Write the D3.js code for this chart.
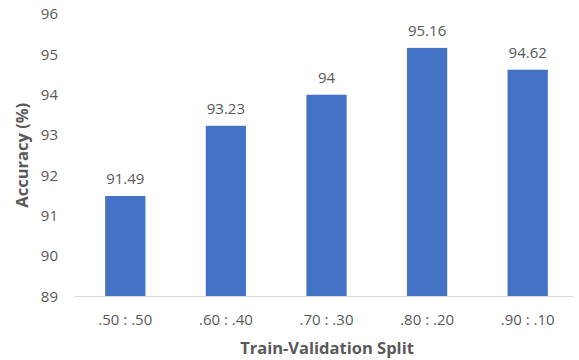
<!DOCTYPE html>
<html>
<head>
<meta charset="utf-8">
<script src="https://cdn.jsdelivr.net/npm/d3@7"></script>
<style>
  html, body { margin: 0; padding: 0; background: #fff; }
  svg { display: block; }
  text { font-family: "Open Sans", "Noto Sans", sans-serif; fill: #595959; }
</style>
</head>
<body>
<svg id="chart" width="579" height="360"></svg>
<script>
// Accuracy by train/validation split
const splits = [".50 : .50", ".60 : .40", ".70 : .30", ".80 : .20", ".90 : .10"];
const accuracy = [91.49, 93.23, 94, 95.16, 94.62];
const yTicks = [89, 90, 91, 92, 93, 94, 95, 96];

const svg = d3.select("#chart");
const margin = { left: 75, right: 1, top: 14, bottom: 63 };
const W = 579, H = 360;
const labelFont = "15px";

const x = d3.scaleBand()
  .domain(splits)
  .range([margin.left, W - margin.right])
  .paddingInner(0.6)
  .paddingOuter(0.3);

const y = d3.scaleLinear()
  .domain([89, 96])
  .range([H - margin.bottom - 0.5, margin.top]);

// Bars
svg.append("g").selectAll("rect")
  .data(accuracy)
  .join("rect")
  .attr("x", (d, i) => x(splits[i]))
  .attr("width", x.bandwidth())
  .attr("y", d => y(d))
  .attr("height", d => y(89) - y(d))
  .attr("fill", "#4472C4");

// Baseline
svg.append("line")
  .attr("x1", margin.left).attr("x2", 573)
  .attr("y1", y(89)).attr("y2", y(89))
  .attr("stroke", "#D9D9D9").attr("stroke-width", 1);

// Y axis labels
const yAxis = d3.axisLeft(y).tickValues(yTicks).tickFormat(d3.format("d")).tickSize(0).tickPadding(0);
const gy = svg.append("g").attr("transform", "translate(58,0)").call(yAxis);
gy.select(".domain").remove();
gy.selectAll("text").style("font-size", labelFont).attr("fill", "#595959")
  .style("font-family", "'Open Sans', sans-serif");

// X axis labels
const xAxis = d3.axisBottom(x).tickSize(0).tickPadding(0);
const gx = svg.append("g").attr("transform", `translate(0,${y(89) + 18})`).call(xAxis);
gx.select(".domain").remove();
gx.selectAll("text").style("font-size", labelFont).attr("fill", "#595959")
  .style("font-family", "'Open Sans', sans-serif");

// Value labels
svg.append("g").selectAll("text")
  .data(accuracy)
  .join("text")
  .attr("x", (d, i) => x(splits[i]) + x.bandwidth() / 2)
  .attr("y", d => y(d) - 12)
  .attr("text-anchor", "middle")
  .style("font-size", labelFont)
  .text(d => d);

// Axis titles
svg.append("text")
  .attr("x", 327).attr("y", 354)
  .attr("text-anchor", "middle")
  .style("font-size", "16.5px").style("font-weight", "bold")
  .text("Train-Validation Split");

svg.append("text")
  .attr("transform", `translate(28,${(y(96) + y(89)) / 2}) rotate(-90)`)
  .attr("text-anchor", "middle")
  .style("font-size", "16.5px").style("font-weight", "bold")
  .text("Accuracy (%)");
</script>
</body>
</html>
